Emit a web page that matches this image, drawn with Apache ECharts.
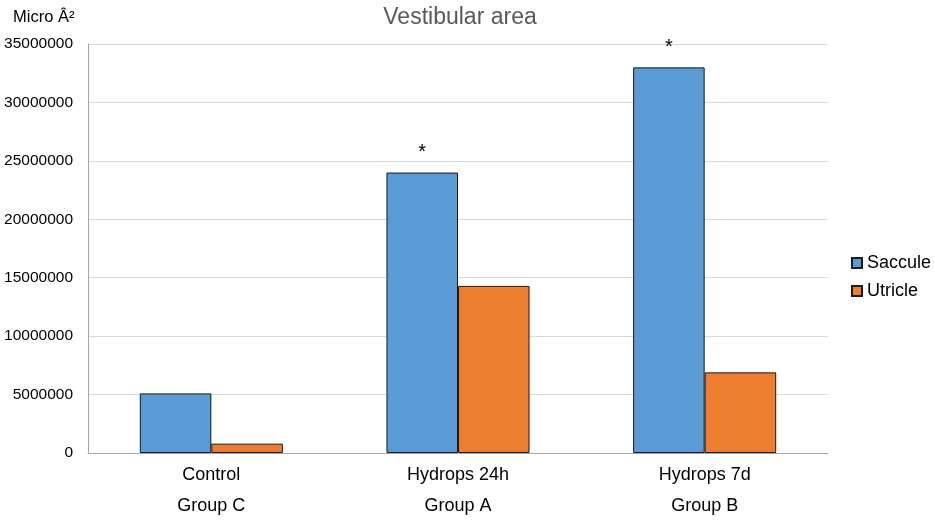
<!DOCTYPE html>
<html>
<head>
<meta charset="utf-8">
<script src="https://cdn.jsdelivr.net/npm/echarts@6/dist/echarts.min.js"></script>
<style>
	html, body { margin: 0; padding: 0; background: #fff; }
	#main { width: 935px; height: 522px; }
</style>
</head>
<body>
<div id="main"></div>
<script>
// 数据
var categories = ['Control\nGroup C', 'Hydrops 24h\nGroup A', 'Hydrops 7d\nGroup B'];
var saccule = [5100000, 24000000, 33000000];
var utricle = [800000, 14300000, 6900000];
var saccMarks = ['', '*', '*'];
var yTicks = [0, 5000000, 10000000, 15000000, 20000000, 25000000, 30000000, 35000000];

var chart = echarts.init(document.getElementById('main'));
chart.setOption({
	textStyle: { fontFamily: 'Liberation Sans, Arial, sans-serif' },
	title: [{
		text: 'Vestibular area',
		left: 455,
		top: 1,
		textAlign: 'center',
		textStyle: { color: '#595959', fontSize: 23, fontWeight: 'normal' }
	}, {
		text: 'Micro Â²',
		left: 8,
		top: 4,
		textStyle: { color: '#000', fontSize: 16.5, fontWeight: 'normal' }
	}],
	legend: {
		orient: 'vertical',
		left: 846,
		top: 249,
		itemWidth: 10,
		itemHeight: 10,
		itemGap: 10,
		icon: 'rect',
		textStyle: { color: '#000', fontSize: 18 },
		data: ['Saccule', 'Utricle']
	},
	grid: {
		left: 88,
		right: 107,
		top: 44,
		bottom: 57,
		containLabel: false
	},
	xAxis: {
		type: 'category',
		data: categories,
		axisLine: { lineStyle: { color: '#a6a6a6' } },
		axisTick: { show: false },
		axisLabel: { color: '#000', fontSize: 18, lineHeight: 31, margin: 7 }
	},
	yAxis: {
		type: 'value',
		min: 0,
		max: 35000000,
		interval: 5000000,
		axisLine: { show: true, lineStyle: { color: '#a6a6a6' } },
		axisTick: { show: false },
		splitLine: { lineStyle: { color: '#d9d9d9' } },
		axisLabel: {
			color: '#000', fontSize: 15.5, margin: 15,
			formatter: function (v) { return yTicks.indexOf(v) >= 0 ? String(v) : ''; }
		}
	},
	series: [{
		name: 'Saccule',
		type: 'bar',
		data: saccule,
		barGap: '0%',
		barCategoryGap: '42%',
		itemStyle: { color: '#5b9bd5', borderColor: '#1a1a1a', borderWidth: 1 },
		label: {
			show: true,
			position: 'top',
			distance: 10,
			color: '#000',
			fontSize: 20,
			formatter: function (p) { return saccMarks[p.dataIndex]; }
		}
	}, {
		name: 'Utricle',
		type: 'bar',
		data: utricle,
		itemStyle: { color: '#ed7d31', borderColor: '#1a1a1a', borderWidth: 1 }
	}]
});
</script>
</body>
</html>
